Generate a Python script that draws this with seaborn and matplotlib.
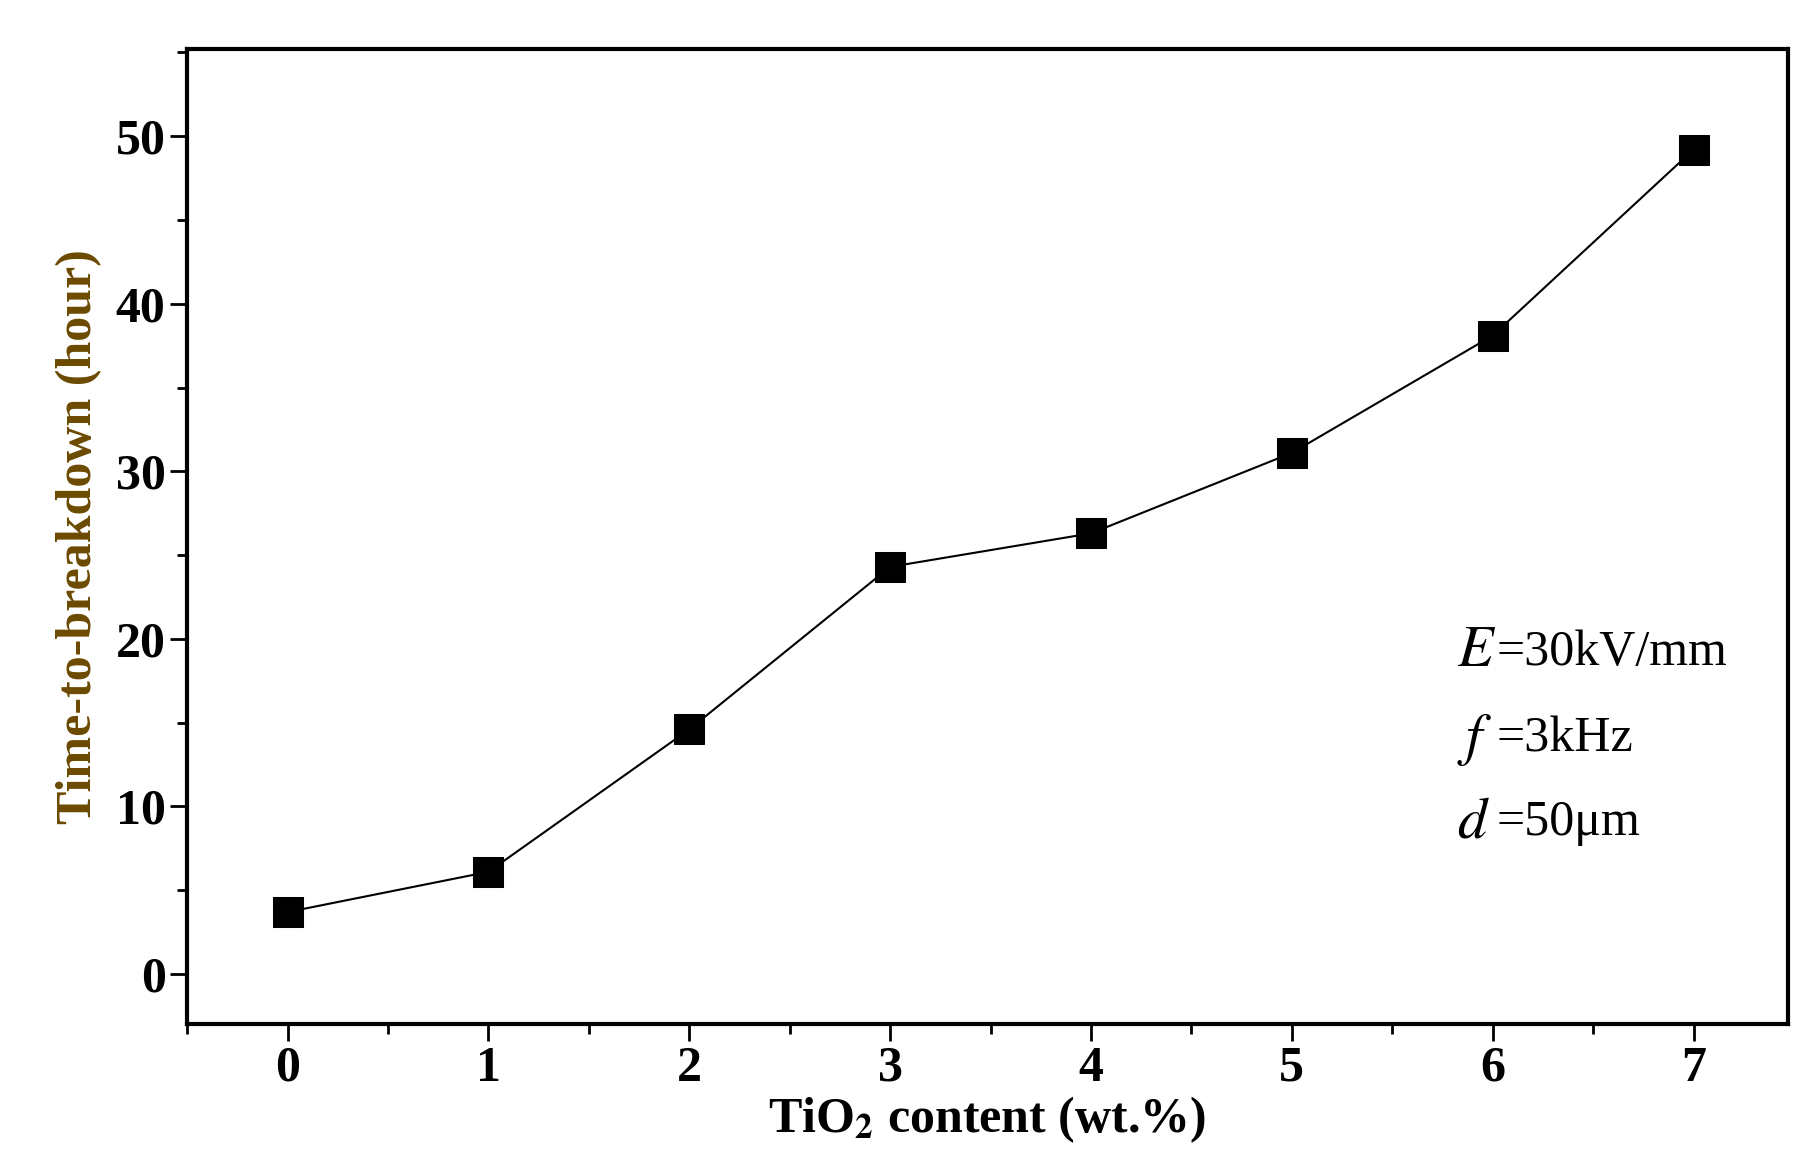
import matplotlib
matplotlib.use("Agg")
import matplotlib.pyplot as plt
import seaborn as sns
import pandas as pd
from matplotlib.ticker import MultipleLocator

content = [0, 1, 2, 3, 4, 5, 6, 7]
hours = [3.7, 6.1, 14.6, 24.3, 26.3, 31.1, 38.1, 49.2]

sns.set_style("ticks")
plt.rcParams['font.family'] = ['Liberation Serif', 'DejaVu Serif']
plt.rcParams['mathtext.fontset'] = 'stix'
plt.rcParams.update({'text.color': 'black', 'axes.labelcolor': 'black',
                     'xtick.color': 'black', 'ytick.color': 'black',
                     'axes.edgecolor': 'black'})

fig = plt.figure(figsize=(18.17, 11.68), dpi=100)
ax = fig.add_axes([0.103, 0.123, 0.881, 0.835])
df = pd.DataFrame({"x": content, "y": hours})
sns.lineplot(data=df, x="x", y="y", ax=ax, color="black", lw=1.5,
             marker="s", markersize=22, markerfacecolor="black", markeredgecolor="black")

ax.set_xlim(-0.5, 7.47)
ax.set_ylim(-3.0, 55.2)
ax.xaxis.set_major_locator(MultipleLocator(1))
ax.xaxis.set_minor_locator(MultipleLocator(0.5))
ax.yaxis.set_major_locator(MultipleLocator(10))
ax.yaxis.set_minor_locator(MultipleLocator(5))
ax.tick_params(which='major', length=12, width=2, labelsize=36, direction='out')
ax.tick_params(which='minor', length=7, width=2, direction='out')
for lab in ax.get_xticklabels() + ax.get_yticklabels():
    lab.set_fontweight('bold')
for s in ax.spines.values():
    s.set_linewidth(3)
    s.set_visible(True)

ax.set_xlabel(r"TiO$_\mathbf{2}$ content (wt.%)", fontsize=36, fontweight='bold', labelpad=2)
ax.set_ylabel("Time-to-breakdown (hour)", fontsize=36, fontweight='bold', color='#6b4a00', labelpad=10)

ax.text(5.82, 19.2, r"$E$", fontsize=42, va='center')
ax.text(6.02, 19.2, "=30kV/mm", fontsize=36, va='center')
ax.text(5.82, 14.0, r"$f$", fontsize=42, va='center')
ax.text(6.02, 14.0, "=3kHz", fontsize=36, va='center')
ax.text(5.82, 9.0, r"$d$", fontsize=42, va='center')
ax.text(6.02, 9.0, "=50μm", fontsize=36, va='center')

fig.savefig("out.png", dpi=100)
